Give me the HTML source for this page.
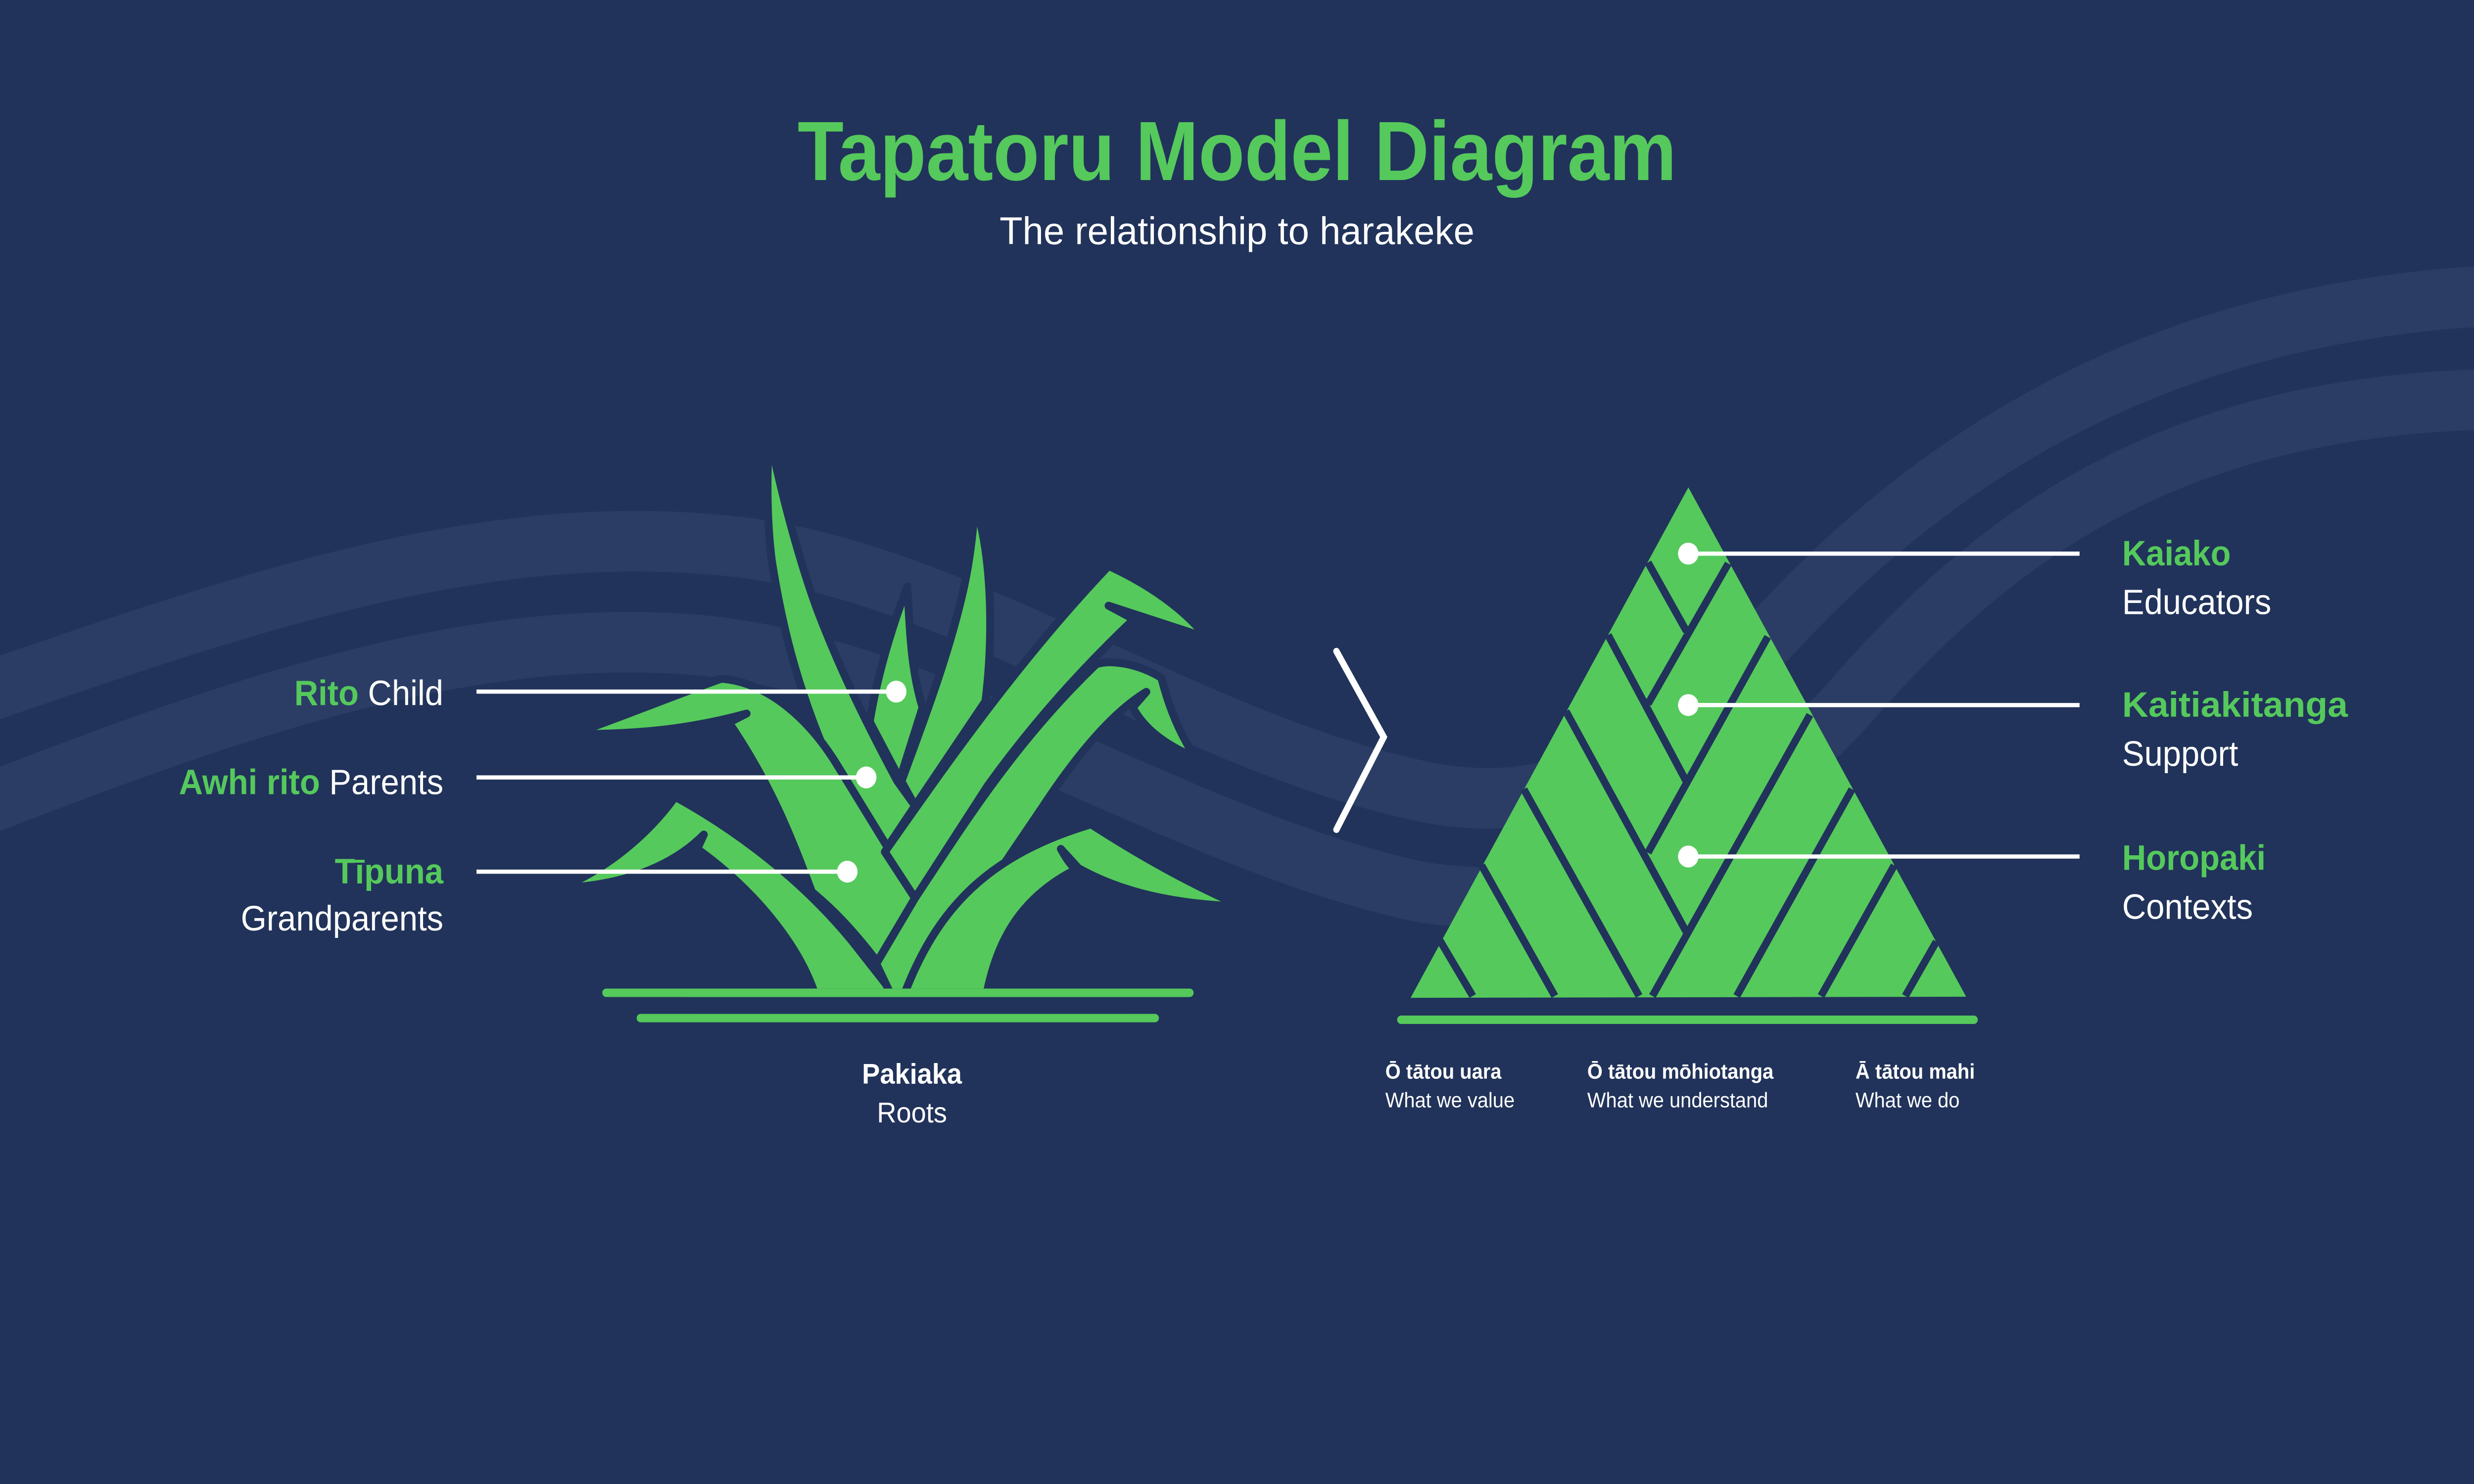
<!DOCTYPE html>
<html><head><meta charset="utf-8"><style>
html,body{margin:0;padding:0;background:#21335a;overflow:hidden;width:100%;height:100%;}
svg{display:block;position:absolute;left:0;top:0;width:100vw;height:100vh;}
text{font-family:"Liberation Sans",sans-serif;}
</style></head><body>
<svg viewBox="0 0 5334 3000" preserveAspectRatio="none" xmlns="http://www.w3.org/2000/svg">
<rect width="5334" height="3000" fill="#21335a"/>
<g transform="scale(3.4018)">
  <path d="M-20,415 C150,360 300,310 457,324 C600,335 750,440 900,470 C1000,490 1060,440 1130,370 C1250,250 1400,180 1600,175" fill="none" stroke="#2b3d64" stroke-width="36"/>
  <path d="M-20,482 C150,420 300,370 450,384 C600,400 750,500 900,530 C1000,545 1080,510 1170,420 C1280,300 1400,237 1600,237" fill="none" stroke="#2b3d64" stroke-width="36"/>
  <text x="784" y="107" text-anchor="middle" font-size="50" font-weight="bold" fill="#55c95c" textLength="557" lengthAdjust="spacingAndGlyphs">Tapatoru Model Diagram</text>
  <text x="784" y="145" text-anchor="middle" font-size="23" fill="#ffffff" textLength="301" lengthAdjust="spacingAndGlyphs">The relationship to harakeke</text>
  <line x1="384" y1="590" x2="753" y2="590" stroke="#55c95c" stroke-width="5" stroke-linecap="round"/>
  <line x1="406" y1="605" x2="732" y2="605" stroke="#55c95c" stroke-width="5" stroke-linecap="round"/>
  <line x1="888" y1="606" x2="1251" y2="606" stroke="#55c95c" stroke-width="5" stroke-linecap="round"/>
  <polyline points="847,387 877,438 847,493" fill="none" stroke="#fff" stroke-width="4" stroke-linecap="round"/>
  <g font-size="21">
    <text x="281" y="419" text-anchor="end" fill="#fff"><tspan fill="#55c95c" font-weight="bold">Rito</tspan> Child</text>
    <text x="281" y="472" text-anchor="end" fill="#fff"><tspan fill="#55c95c" font-weight="bold">Awhi rito</tspan> Parents</text>
    <text x="281" y="525" text-anchor="end" fill="#55c95c" font-weight="bold">Tīpuna</text>
    <text x="281" y="553" text-anchor="end" fill="#fff">Grandparents</text>
  </g>
  <g font-size="21">
    <text x="1345" y="336" fill="#55c95c" font-weight="bold">Kaiako</text>
    <text x="1345" y="365" fill="#fff">Educators</text>
    <text x="1345" y="426" fill="#55c95c" font-weight="bold" textLength="143" lengthAdjust="spacingAndGlyphs">Kaitiakitanga</text>
    <text x="1345" y="455" fill="#fff">Support</text>
    <text x="1345" y="517" fill="#55c95c" font-weight="bold">Horopaki</text>
    <text x="1345" y="546" fill="#fff">Contexts</text>
  </g>
  <text x="578" y="644" text-anchor="middle" font-size="17" font-weight="bold" fill="#fff">Pakiaka</text>
  <text x="578" y="667" text-anchor="middle" font-size="17" fill="#fff">Roots</text>
  <g font-size="12.5" fill="#fff">
    <text x="878" y="641" font-weight="bold">Ō tātou uara</text>
    <text x="878" y="658">What we value</text>
    <text x="1006" y="641" font-weight="bold">Ō tātou mōhiotanga</text>
    <text x="1006" y="658">What we understand</text>
    <text x="1176" y="641" font-weight="bold">Ā tātou mahi</text>
    <text x="1176" y="658">What we do</text>
  </g>
</g>
<g transform="translate(1100,800) scale(1.0842,0.8291)" fill="#55c95c" stroke="#21335a" stroke-width="16" stroke-linejoin="round">
  <path vector-effect="non-scaling-stroke" d="M515,90 C540,250 580,420 610,520 C650,650 700,780 770,940 L805,1000 L745,1110 C700,1030 660,950 620,850 C570,700 540,560 520,400 C510,300 510,200 515,90 Z"/>
  <path vector-effect="non-scaling-stroke" d="M790,465 C795,600 800,680 820,760 L775,935 L715,795 C730,680 760,560 790,465 Z"/>
  <path vector-effect="non-scaling-stroke" d="M925,265 C960,400 960,600 945,745 L805,1000 L778,940 C820,800 870,640 900,480 C915,400 920,330 925,265 Z"/>
  <path vector-effect="non-scaling-stroke" d="M125,825 C250,770 350,720 420,690 C520,700 600,800 650,900 L760,1120 L805,1225 L730,1380 C680,1300 640,1250 600,1210 C560,1080 520,950 435,797 L470,775 C350,815 250,825 125,825 Z"/>
  <path vector-effect="non-scaling-stroke" d="M1190,415 C1270,460 1340,520 1385,590 L1190,512 L1240,545 C1150,650 1050,780 950,950 L805,1225 L745,1112 C850,930 1000,660 1190,415 Z"/>
  <path vector-effect="non-scaling-stroke" d="M100,1200 C200,1150 280,1060 328,978 C450,1060 580,1180 680,1330 L760,1455 L605,1455 C570,1330 480,1200 372,1105 L385,1070 C320,1150 220,1195 100,1200 Z"/>
  <path vector-effect="non-scaling-stroke" d="M1165,655 C1200,640 1260,660 1295,688 C1310,760 1330,820 1362,882 C1300,850 1260,810 1238,760 L1265,722 C1200,770 1130,870 1060,1000 C1000,1110 950,1200 900,1290 L790,1455 L755,1455 L728,1385 L805,1225 C900,1050 1000,850 1165,655 Z"/>
  <path vector-effect="non-scaling-stroke" d="M785,1455 C850,1250 950,1120 1155,1045 C1250,1120 1350,1190 1455,1245 C1300,1240 1200,1200 1130,1152 L1095,1105 C1100,1115 1110,1140 1125,1155 C1020,1220 970,1320 948,1455 Z"/>
</g>
<rect x="1280" y="1998" width="200" height="20" fill="#21335a"/>
<line x1="1307" y1="2007" x2="2565" y2="2007" stroke="#55c95c" stroke-width="17" stroke-linecap="round"/>
<g transform="translate(2850,950) scale(0.9566,0.7334)">
  <path d="M826,48 L1452,1452 L200,1455 Z" fill="#55c95c"/>
  <g stroke="#21335a" stroke-width="15" fill="none">
    <line vector-effect="non-scaling-stroke" x1="735" y1="255" x2="822" y2="445"/>
    <line vector-effect="non-scaling-stroke" x1="645" y1="455" x2="822" y2="860"/>
    <line vector-effect="non-scaling-stroke" x1="550" y1="665" x2="822" y2="1275"/>
    <line vector-effect="non-scaling-stroke" x1="455" y1="880" x2="715" y2="1450"/>
    <line vector-effect="non-scaling-stroke" x1="360" y1="1090" x2="525" y2="1450"/>
    <line vector-effect="non-scaling-stroke" x1="265" y1="1295" x2="340" y2="1450"/>
    <line vector-effect="non-scaling-stroke" x1="916" y1="258" x2="735" y2="645"/>
    <line vector-effect="non-scaling-stroke" x1="1005" y1="460" x2="735" y2="1055"/>
    <line vector-effect="non-scaling-stroke" x1="1100" y1="675" x2="745" y2="1450"/>
    <line vector-effect="non-scaling-stroke" x1="1195" y1="880" x2="935" y2="1450"/>
    <line vector-effect="non-scaling-stroke" x1="1290" y1="1090" x2="1125" y2="1450"/>
    <line vector-effect="non-scaling-stroke" x1="1385" y1="1300" x2="1315" y2="1450"/>
  </g>
</g>
<g transform="scale(3.4018)">
  <g stroke="#fff" stroke-width="2.5">
    <line x1="302" y1="411" x2="568" y2="411"/>
    <line x1="302" y1="462" x2="549" y2="462"/>
    <line x1="302" y1="518" x2="537" y2="518"/>
    <line x1="1070" y1="329" x2="1318" y2="329"/>
    <line x1="1070" y1="419" x2="1318" y2="419"/>
    <line x1="1070" y1="509" x2="1318" y2="509"/>
  </g>
  <g fill="#fff">
    <circle cx="568" cy="411" r="6.5"/>
    <circle cx="549" cy="462" r="6.5"/>
    <circle cx="537" cy="518" r="6.5"/>
    <circle cx="1070" cy="329" r="6.5"/>
    <circle cx="1070" cy="419" r="6.5"/>
    <circle cx="1070" cy="509" r="6.5"/>
  </g>
</g>
</svg>
</body></html>
